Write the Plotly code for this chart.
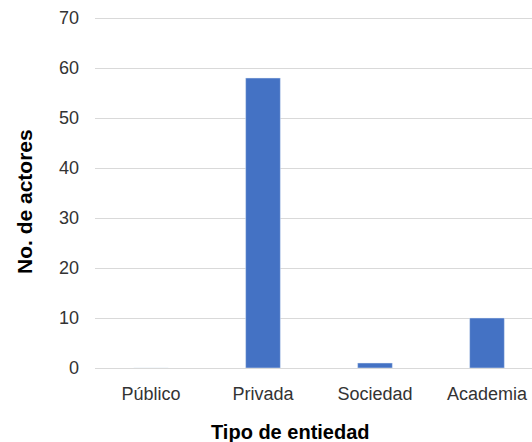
import plotly.graph_objects as go

categories = ["Público", "Privada", "Sociedad", "Academia"]
values = [0, 58, 1, 10]
y_ticks = [0, 10, 20, 30, 40, 50, 60, 70]

fig = go.Figure(go.Bar(x=categories, y=values, marker_color="#4472C4", width=0.31))

FONT = "Liberation Sans, Arial, sans-serif"
W, H = 532, 442
L = 95
PX_PER_CAT = 112
x_max = -0.5 + (W - L) / PX_PER_CAT

fig.update_layout(
    width=W, height=H,
    margin=dict(l=L, r=0, t=16, b=74),
    paper_bgcolor="white", plot_bgcolor="white",
    font=dict(family=FONT, size=18, color="#333333"),
    showlegend=False,
)
fig.update_xaxes(range=[-0.5, x_max], showgrid=False, showline=False, ticks="",
                 tickfont=dict(size=18, color="#333333"), ticklabelstandoff=13)
fig.update_yaxes(range=[0, 70.4], tickvals=y_ticks, showgrid=True, gridcolor="#d9d9d9",
                 gridwidth=1, zeroline=True, zerolinecolor="#d9d9d9", zerolinewidth=1,
                 showline=False, ticks="", tickfont=dict(size=18, color="#333333"),
                 ticklabelstandoff=15)
fig.add_annotation(text="<b>Tipo de entiedad</b>", xref="paper", yref="paper",
                   x=(290 - L) / (W - L), y=0, yshift=-64, showarrow=False,
                   font=dict(size=20, color="#000"), xanchor="center", yanchor="middle")
fig.add_annotation(text="<b>No. de actores</b>", xref="paper", yref="paper",
                   x=(25 - L) / (W - L), y=0.4716, textangle=-90, showarrow=False,
                   font=dict(size=21, color="#000"), xanchor="center", yanchor="middle")

fig.write_html("out.html",
               config={"displayModeBar": False},
               post_script="document.body.style.margin='0';document.body.style.overflow='hidden';")
